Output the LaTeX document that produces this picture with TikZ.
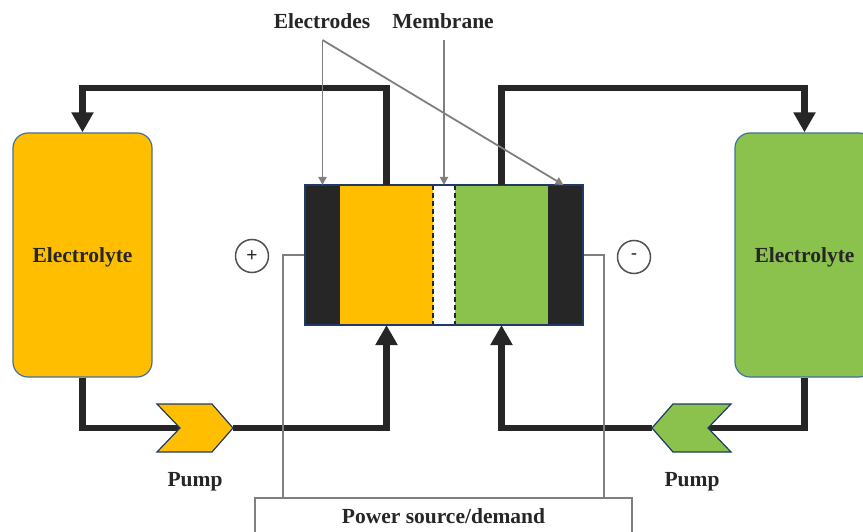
\documentclass[tikz,border=0pt]{standalone}
\usepackage{fontspec}
\setmainfont{Liberation Serif}
\setsansfont{Liberation Sans}
\usetikzlibrary{arrows.meta,calc}
\definecolor{orng}{HTML}{FFBF00}
\definecolor{grn}{HTML}{8BC24E}
\definecolor{dk}{HTML}{262626}
\definecolor{navy}{HTML}{1F3A64}
\definecolor{tankedge}{HTML}{41719C}
\definecolor{gry}{HTML}{7F7F7F}
\begin{document}
\begin{tikzpicture}[x=1pt,y=-1pt,
 pipe/.style={line width=6.5pt, draw=dk, line join=miter},
 flow/.style={pipe, -{Triangle[length=20pt,width=21pt]}},
 tank/.style={draw=tankedge, line width=1.2pt, rounded corners=15pt, minimum width=139pt, minimum height=244pt, font=\bfseries\fontsize{21.5}{24}\selectfont, text=dk, text depth=0pt},
 slab/.style={inner sep=0pt, outer sep=0pt, minimum height=140pt},
 lab/.style={font=\bfseries\fontsize{21.5}{24}\selectfont, text=dk},
 pointer/.style={draw=gry, line width=1.8pt, -{Triangle[length=8pt,width=8pt]}},
 wire/.style={draw=gry, line width=1.8pt},
 pumpshape/.style={draw=navy, line width=1.2pt, line join=miter},
 pole/.style={circle, draw=dk!80, line width=1.5pt, minimum size=33pt, inner sep=0pt, font=\sffamily\fontsize{19}{19}\selectfont, text=dk}
]
\clip (0,0) rectangle (863,532);
% tanks
\node[tank, fill=orng] (lt) at (82.5,255) {Electrolyte};
\node[tank, fill=grn] (rt) at (804.5,255) {Electrolyte};
% cell
\node[slab, fill=dk, minimum width=35pt] (e1) at (322.5,255) {};
\node[slab, fill=orng, minimum width=93pt] (ca) at (386.5,255) {};
\node[slab, fill=white, minimum width=22pt] (mem) at (444,255) {};
\node[slab, fill=grn, minimum width=93pt] (cc) at (501.5,255) {};
\node[slab, fill=dk, minimum width=35pt] (e2) at (565.5,255) {};
\draw[dk, line width=1.6pt, dash pattern=on 5pt off 3pt] (mem.north west) -- (mem.south west) (mem.north east) -- (mem.south east);
\node[draw=navy, line width=1.8pt, minimum width=278pt, minimum height=140pt, inner sep=0pt] (cell) at (444,255) {};
% coordinates
\coordinate (top) at (0,88);
\coordinate (bot) at (0,428);
\coordinate (lpin) at (180,428);
\coordinate (lpout) at (233,428);
\coordinate (rpin) at (708,428);
\coordinate (rpout) at (652,428);
% pipes
\draw[flow] (ca.north) -- (ca.north |- top) -| (lt.north);
\draw[flow] (cc.north) -- (cc.north |- top) -| (rt.north);
\draw[pipe] (lt.south) -- (lt.south |- bot) -- (lpin);
\draw[flow] (lpout) -| (ca.south);
\draw[pipe] (rt.south) -- (rt.south |- bot) -- (rpin);
\draw[flow] (rpout) -| (cc.south);
% pumps
\fill[orng] (157,404) -- (212,404) -- (lpout) -- (212,452) -- (157,452) -- (lpin) -- cycle;
\draw[pumpshape] (157,404) -- (212,404) -- (lpout) -- (212,452) -- (157,452) -- (lpin) -- cycle;
\fill[grn] (731,404) -- (673,404) -- (rpout) -- (673,452) -- (731,452) -- (rpin) -- cycle;
\draw[pumpshape] (731,404) -- (673,404) -- (rpout) -- (673,452) -- (731,452) -- (rpin) -- cycle;
\node[lab] (lpl) at (195,482) {Pump};
\node[lab] (rpl) at (692,482) {Pump};
% poles
\node[pole] (plus) at (252,256) {+};
\node[pole] (minus) at (634,257) {-};
% power
\node[draw=gry, line width=1.8pt, minimum width=377pt, minimum height=70pt, anchor=north, inner sep=0pt] (pw) at (443.5,497) {};
\node[lab] (pwt) at (443.5,516) {Power source/demand};
\draw[wire] (cell.west) -| ($(pw.north west)+(29,0)$);
\draw[wire] (cell.east) -| ($(pw.north east)+(-29,0)$);
% labels
\node[lab] (elab) at (322,21) {Electrodes};
\node[lab] (mlab) at (443,21) {Membrane};
\coordinate (es) at (322.5,40);
\coordinate (ms) at (444,40);
\draw[pointer] (es) -- (e1.north);
\draw[pointer] (es) -- ($(e2.north)+(-2,0)$);
\draw[pointer] (ms) -- (mem.north);
\end{tikzpicture}
\end{document}
